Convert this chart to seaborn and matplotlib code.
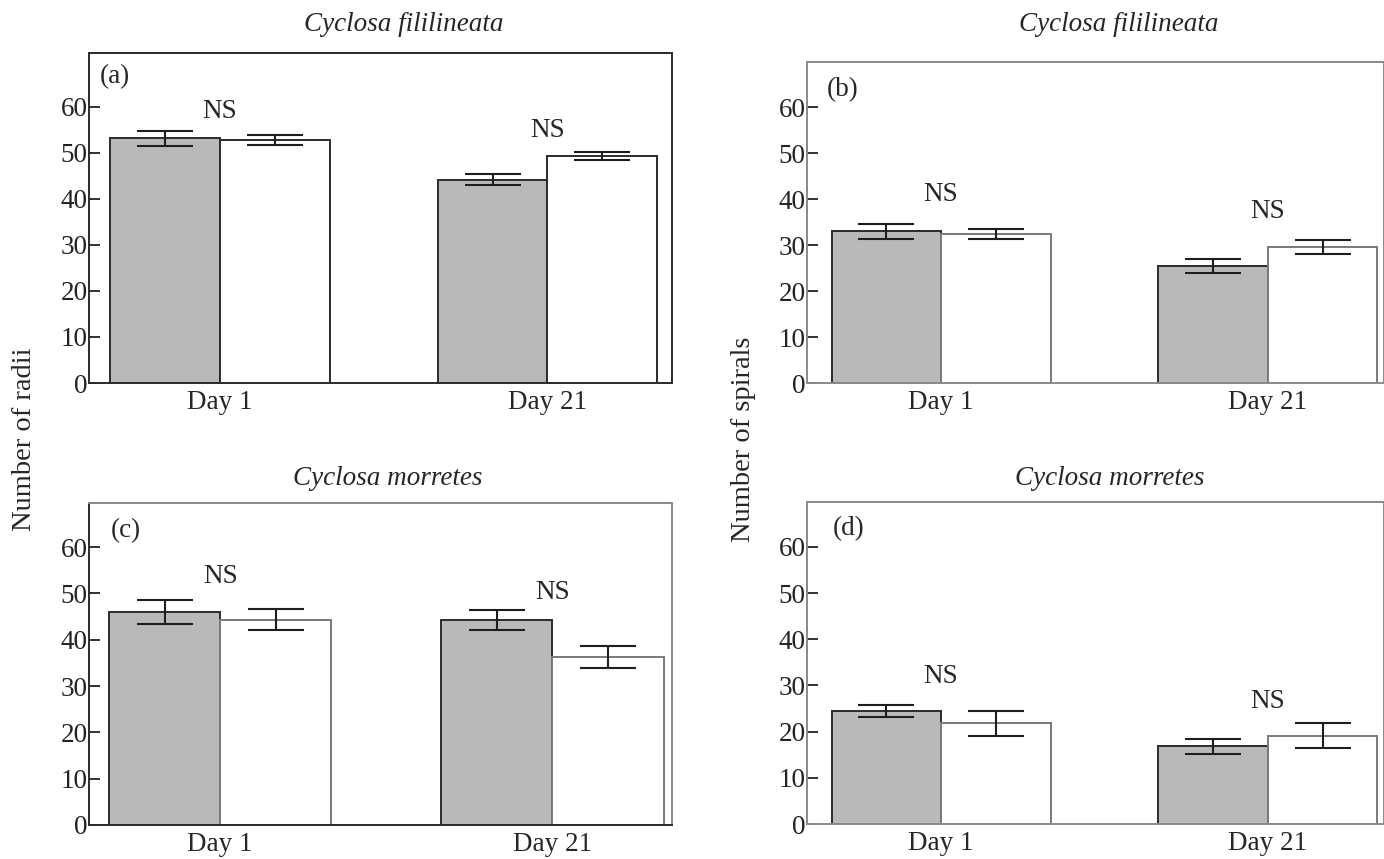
import matplotlib
matplotlib.use("Agg")
import matplotlib.pyplot as plt
import seaborn as sns
import pandas as pd

# 数据
days = ["Day 1", "Day 21"]
groups = ["grey", "white"]
panel_tags = ["(a)", "(b)", "(c)", "(d)"]
species = ["Cyclosa fililineata", "Cyclosa fililineata", "Cyclosa morretes", "Cyclosa morretes"]

# 每个面板：灰色柱 [Day1, Day21]，白色柱 [Day1, Day21]
grey_mean = [[53.2, 44.2], [33.0, 25.5], [46.0, 44.2], [24.4, 16.8]]
grey_err = [[1.6, 1.2], [1.6, 1.5], [2.6, 2.2], [1.3, 1.6]]
white_mean = [[52.8, 49.3], [32.5, 29.5], [44.3, 36.3], [21.8, 19.1]]
white_err = [[1.0, 0.9], [1.1, 1.5], [2.3, 2.4], [2.7, 2.7]]
ns_y = [[59.0, 54.8], [41.0, 37.2], [53.7, 50.2], [32.0, 26.5]]
ymax = [71.7, 69.8, 69.5, 69.7]
yticks = [0, 10, 20, 30, 40, 50, 60]

sns.set_style("ticks")
plt.rcParams["font.family"] = ["Liberation Serif", "DejaVu Serif"]
FS = 19.5

fig = plt.figure(figsize=(13.84, 8.59), dpi=100)
positions = [
    [0.0643, 0.5541, 0.4212, 0.3842],
    [0.5831, 0.5541, 0.4169, 0.3737],
    [0.0643, 0.0396, 0.4212, 0.3748],
    [0.5831, 0.0407, 0.4169, 0.3749],
]
xlims = [(-0.40, 1.38), (-0.41, 1.355), (-0.395, 1.36), (-0.41, 1.355)]
tag_pos = [(0.019, 0.927), (0.035, 0.913), (0.038, 0.913), (0.045, 0.916)]
title_pos = [(0.292, 0.971), (0.808, 0.971), (0.280, 0.4435), (0.802, 0.4435)]

for i in range(4):
    ax = fig.add_axes(positions[i])
    df = pd.DataFrame({
        "day": days * 2,
        "group": [groups[0]] * 2 + [groups[1]] * 2,
        "value": grey_mean[i] + white_mean[i],
    })
    sns.barplot(
        data=df, x="day", y="value", hue="group",
        order=days, hue_order=groups,
        palette=["#b8b9bc", "white"],
        width=0.67, errorbar=None, legend=False,
        edgecolor="#2b2b2b", linewidth=1.4, ax=ax,
    )
    bar_conts = list(ax.containers[:2])
    # 白色柱边框（b-d 略浅）
    if i > 0:
        for bar in bar_conts[1]:
            bar.set_edgecolor("#7a7a7a")

    # 误差线
    errs = [grey_err[i], white_err[i]]
    for k, cont in enumerate(bar_conts):
        xs = [b.get_x() + b.get_width() / 2 for b in cont]
        ys = [b.get_height() for b in cont]
        ax.errorbar(xs, ys, yerr=errs[k], fmt="none", ecolor="#1e1e1e",
                    elinewidth=1.5, capsize=20, capthick=1.5, zorder=5)

    # NS 标注
    for j in range(2):
        ax.text(j, ns_y[i][j], "NS", ha="center", va="center", fontsize=FS)

    ax.text(tag_pos[i][0], tag_pos[i][1], panel_tags[i], transform=ax.transAxes,
            ha="left", va="center", fontsize=FS)

    ax.set_xlim(*xlims[i])
    ax.set_ylim(0, ymax[i])
    ax.set_yticks(yticks)
    ax.set_xlabel("")
    ax.set_ylabel("")
    ax.tick_params(axis="y", direction="in", length=8, width=1.3,
                   labelsize=FS, pad=1, colors="#222222")
    ax.tick_params(axis="x", length=0, labelsize=FS, pad=5)
    for name, sp in ax.spines.items():
        sp.set_visible(True)
        sp.set_linewidth(1.4)
        if i == 0 or (i == 2 and name in ("left", "bottom")):
            sp.set_color("#2b2b2b")
        else:
            sp.set_color("#8a8a8a")

    fig.text(title_pos[i][0], title_pos[i][1], species[i],
             ha="center", va="center", style="italic", fontsize=FS)

fig.text(0.018, 0.489, "Number of radii", rotation=90, ha="center", va="center", fontsize=20.5)
fig.text(0.537, 0.489, "Number of spirals", rotation=90, ha="center", va="center", fontsize=20.5)

fig.savefig("out.png", dpi=100)
